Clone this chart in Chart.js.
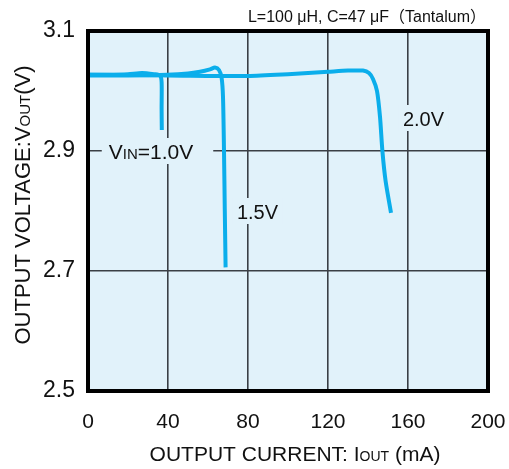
<!DOCTYPE html>
<html>
<head>
<meta charset="utf-8">
<script src="https://cdn.jsdelivr.net/npm/chart.js@4"></script>
<style>
html,body{margin:0;padding:0;background:#fff;}
#wrap{width:509px;height:469px;position:relative;}
</style>
</head>
<body>
<div id="wrap"><canvas id="c" width="509" height="469"></canvas></div>
<script>
// ---- data ----
const xTicks = [0, 40, 80, 120, 160, 200];
const yTicks = [2.5, 2.7, 2.9, 3.1];

const iout10 = [0, 10, 20, 27, 33, 36, 36.8, 36.8, 36.9];
const vout10 = [3.027, 3.027, 3.028, 3.030, 3.028, 3.026, 3.015, 2.97, 2.935];

const iout15 = [0, 20, 39.5, 50, 56, 61, 63.5, 65.5, 66.8, 67.5, 68, 68.4, 68.8];
const vout15 = [3.026, 3.026, 3.027, 3.029, 3.032, 3.036, 3.039, 3.035, 3.022, 2.99, 2.9, 2.8, 2.706];

const iout20 = [0, 40, 80, 100, 120, 130, 137.5, 140.5, 142.5, 144.5, 146, 147.2, 148.8, 151.5];
const vout20 = [3.027, 3.026, 3.025, 3.028, 3.032, 3.034, 3.034, 3.030, 3.020, 3.000, 2.957, 2.9, 2.85, 2.797];

const toPts = (xs, ys) => xs.map((x, i) => ({x: x, y: ys[i]}));

const FONT = "'Liberation Sans', Arial, Helvetica, 'Noto Sans CJK JP', sans-serif";
const PLOT_BG = '#E1F2FA';
const LINE = '#0BAEEB';
const GRID = '#3a3f45';

function drawMixed(ctx, parts, x, y, align) {
  let total = 0;
  parts.forEach(p => { ctx.font = p.s + 'px ' + FONT; p.w = ctx.measureText(p.t).width; total += p.w; });
  let cx = align === 'center' ? x - total / 2 : (align === 'right' ? x - total : x);
  ctx.textAlign = 'left';
  ctx.textBaseline = 'alphabetic';
  parts.forEach(p => { ctx.font = p.s + 'px ' + FONT; ctx.fillText(p.t, cx, y); cx += p.w; });
  return total;
}

const decor = {
  id: 'decor',
  beforeDraw(chart) {
    const {ctx, chartArea: a} = chart;
    ctx.save();
    ctx.fillStyle = PLOT_BG;
    ctx.fillRect(a.left, a.top, a.right - a.left, a.bottom - a.top);
    ctx.restore();
  },
  beforeDatasetsDraw(chart) {
    const {ctx, scales} = chart;
    const xs = scales.x, ys = scales.y;
    ctx.save();
    // series labels, with gaps cut into the grid behind them
    const lab = [
      {parts: [{t: 'V', s: 21}, {t: 'IN', s: 15}, {t: '=1.0V', s: 21}], x: 31.5, y: 2.9, pad: [7, 20]},
      {parts: [{t: '1.5V', s: 20}], x: 84.75, y: 2.8, pad: [4, 4]},
      {parts: [{t: '2.0V', s: 20}], x: 167.75, y: 2.955, pad: [4, 4]}
    ];
    lab.forEach(l => {
      let w = 0;
      l.parts.forEach(p => { ctx.font = p.s + 'px ' + FONT; w += ctx.measureText(p.t).width; });
      const cx = xs.getPixelForValue(l.x), cy = ys.getPixelForValue(l.y);
      ctx.fillStyle = PLOT_BG;
      ctx.fillRect(cx - w / 2 - l.pad[0], cy - 13, w + l.pad[0] + l.pad[1], 26);
      ctx.fillStyle = '#111';
      drawMixed(ctx, l.parts, cx, cy + 7.5, 'center');
    });
    ctx.restore();
  },
  afterDraw(chart) {
    const {ctx, chartArea: a} = chart;
    ctx.save();
    ctx.strokeStyle = '#000';
    ctx.lineWidth = 4;
    ctx.strokeRect(a.left, a.top, a.right - a.left, a.bottom - a.top);
    ctx.fillStyle = '#111';
    // condition note
    drawMixed(ctx, [{t: 'L=100 \u03bcH, C=47 \u03bcF\uff08Tantalum\uff09', s: 16}], 486, 22, 'right');
    // x axis title
    drawMixed(ctx, [{t: 'OUTPUT CURRENT: I', s: 21}, {t: 'OUT', s: 14}, {t: ' (mA)', s: 21}], 295, 461, 'center');
    // y axis title
    ctx.translate(30, 205);
    ctx.rotate(-Math.PI / 2);
    drawMixed(ctx, [{t: 'OUTPUT VOLTAGE:V', s: 22}, {t: 'OUT', s: 15}, {t: '(V)', s: 22}], 0, 0, 'center');
    ctx.restore();
  }
};

const edge = (lo, hi) => (c) => {
  const v = c.tick ? c.tick.value : null;
  if (v === null) return 'transparent';
  return (Math.abs(v - lo) < 1e-6 || Math.abs(v - hi) < 1e-6) ? 'transparent' : GRID;
};

const ds = (pts) => ({
  data: pts, showLine: true, borderColor: LINE, borderWidth: 4, pointRadius: 0,
  tension: 0.25, fill: false, borderCapStyle: 'butt', borderJoinStyle: 'round'
});

new Chart(document.getElementById('c'), {
  type: 'scatter',
  data: {
    datasets: [
      ds(toPts(iout10, vout10)),
      ds(toPts(iout15, vout15)),
      ds(toPts(iout20, vout20))
    ]
  },
  options: {
    responsive: false,
    animation: false,
    devicePixelRatio: 1,
    layout: {padding: {left: 0, right: 21, top: 31, bottom: 0}},
    plugins: {legend: {display: false}, tooltip: {enabled: false}, title: {display: false}},
    scales: {
      x: {
        type: 'linear', min: xTicks[0], max: xTicks[xTicks.length - 1],
        afterBuildTicks: (s) => { s.ticks = xTicks.map(v => ({value: v})); },
        afterFit: (s) => { s.height = 78; s.paddingLeft = 0; s.paddingRight = 0; },
        grid: {color: edge(0, 200), lineWidth: 1.6, drawTicks: false},
        border: {display: false},
        ticks: {color: '#111', font: {family: FONT, size: 21}, padding: 19, autoSkip: false, maxRotation: 0,
                callback: (v) => String(v)}
      },
      y: {
        type: 'linear', min: yTicks[0], max: yTicks[yTicks.length - 1],
        afterBuildTicks: (s) => { s.ticks = yTicks.map(v => ({value: v})); },
        afterFit: (s) => { s.width = 88; s.paddingTop = 0; s.paddingBottom = 0; },
        grid: {color: edge(2.5, 3.1), lineWidth: 1.6, drawTicks: false},
        border: {display: false},
        ticks: {color: '#111', font: {family: FONT, size: 23}, padding: 13, autoSkip: false,
                callback: (v) => Number(v).toFixed(1)}
      }
    }
  },
  plugins: [decor]
});
</script>
</body>
</html>
